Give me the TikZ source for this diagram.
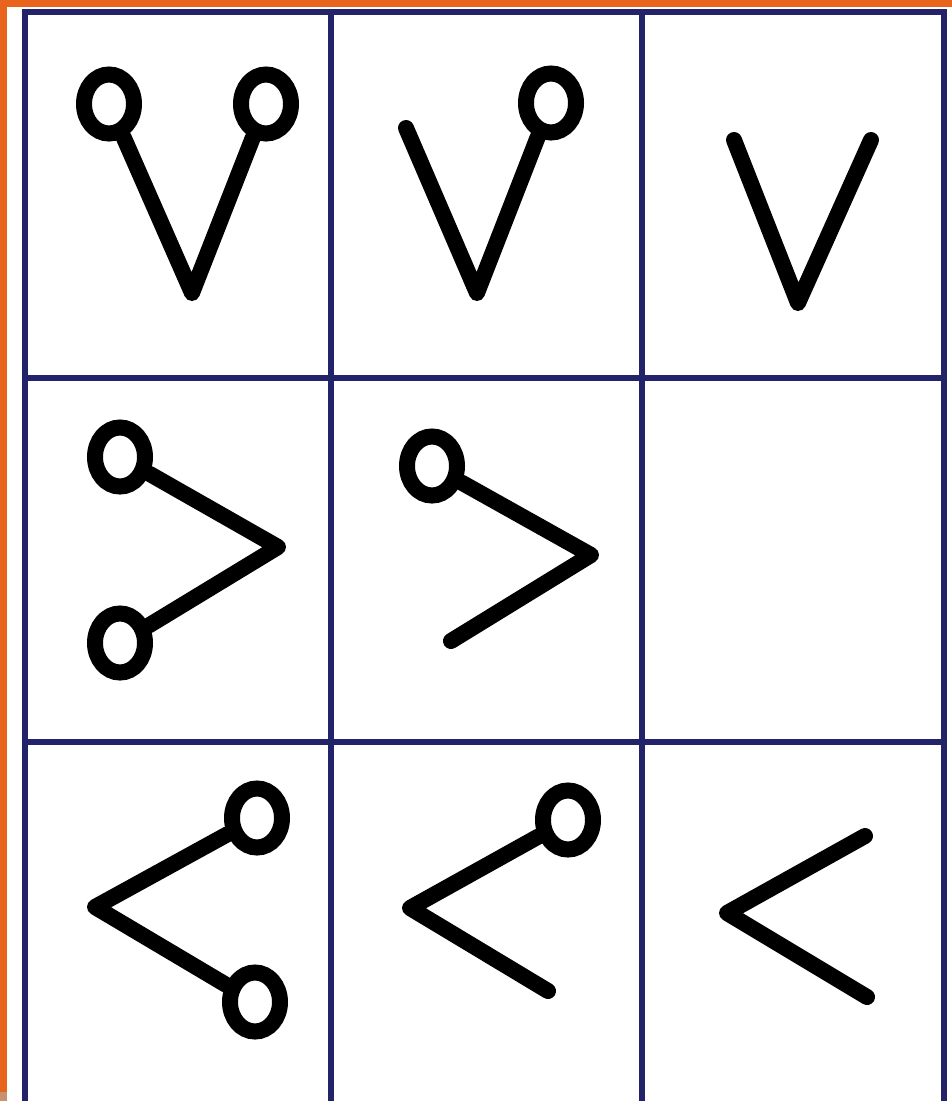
\documentclass[tikz,border=0pt]{standalone}
\usetikzlibrary{shapes.geometric}
\definecolor{frameorange}{RGB}{232,99,28}
\definecolor{gridnavy}{RGB}{35,35,105}
\definecolor{cornertan}{RGB}{200,145,110}
\begin{document}
\begin{tikzpicture}[x=1pt,y=-1pt,
  stroke/.style={line width=16pt, line cap=round, line join=round},
  ring/.style={ellipse, draw, line width=16pt, minimum width=50pt, minimum height=59pt, inner sep=0pt},
  gridline/.style={draw=gridnavy, line width=5.5pt}]
\useasboundingbox (0,0) rectangle (952,1101);
\clip (0,0) rectangle (952,1101);
\fill[white] (0,0) rectangle (952,1101);
% orange frame
\fill[frameorange] (0,0) rectangle (952,7);
\fill[frameorange] (0,0) rectangle (7,1092);
\fill[cornertan] (0,1092) rectangle (7,1101);
% grid
\draw[gridline] (25,1101) -- (25,12) -- (944,12) -- (944,1101);
\draw[gridline] (331,12) -- (331,1101);
\draw[gridline] (642,12) -- (642,1101);
\draw[gridline] (25,378) -- (944,378);
\draw[gridline] (25,742) -- (944,742);
% cell 1,1
\node[ring] (a1) at (109,104) {};
\node[ring] (a2) at (266,104) {};
\coordinate (av) at (192,293);
\draw[stroke] (a1) -- (av) -- (a2);
% cell 1,2
\coordinate (b1) at (406,128);
\coordinate (bv) at (477,293);
\node[ring] (b2) at (551,103) {};
\draw[stroke] (b1) -- (bv) -- (b2);
% cell 1,3
\coordinate (c1) at (734,140);
\coordinate (cv) at (798,303);
\coordinate (c2) at (871,140);
\draw[stroke] (c1) -- (cv) -- (c2);
% cell 2,1
\node[ring] (d1) at (120,457) {};
\coordinate (dv) at (278,547);
\node[ring] (d2) at (120,643) {};
\draw[stroke] (d1) -- (dv) -- (d2);
% cell 2,2
\node[ring] (e1) at (432,466) {};
\coordinate (ev) at (591,555);
\coordinate (e2) at (451,641);
\draw[stroke] (e1) -- (ev) -- (e2);
% cell 3,1
\node[ring] (g1) at (257,818) {};
\coordinate (gv) at (95,907);
\node[ring] (g2) at (255,1002) {};
\draw[stroke] (g1) -- (gv) -- (g2);
% cell 3,2
\node[ring] (h1) at (568,820) {};
\coordinate (hv) at (410,908);
\coordinate (h2) at (548,991);
\draw[stroke] (h1) -- (hv) -- (h2);
% cell 3,3
\coordinate (k1) at (865,836);
\coordinate (kv) at (727,913);
\coordinate (k2) at (867,997);
\draw[stroke] (k1) -- (kv) -- (k2);
\end{tikzpicture}
\end{document}
